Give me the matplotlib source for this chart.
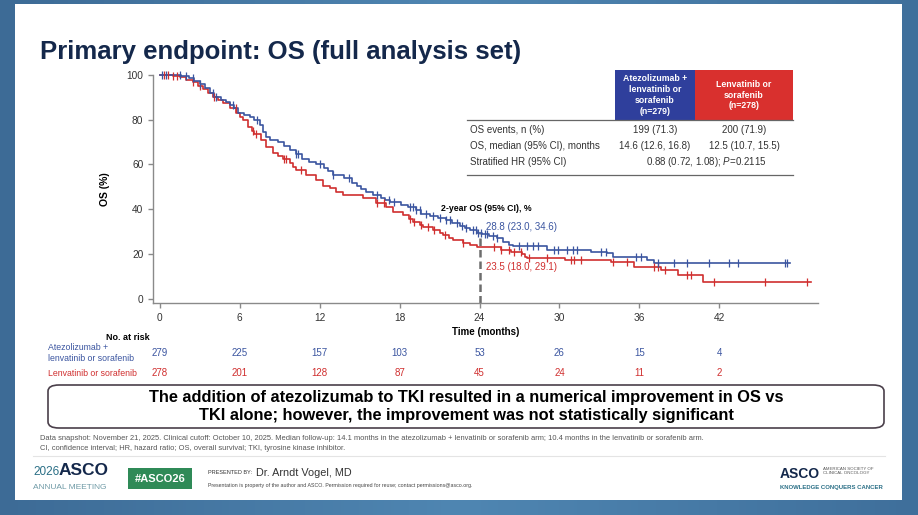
import numpy as np
import matplotlib.pyplot as plt
from matplotlib.patches import Rectangle, FancyBboxPatch
from matplotlib.colors import LinearSegmentedColormap
from matplotlib.transforms import blended_transform_factory

plt.rcParams['font.family'] = ['Liberation Sans', 'DejaVu Sans']
plt.rcParams['mathtext.fontset'] = 'custom'
plt.rcParams['mathtext.rm'] = 'Liberation Sans'
plt.rcParams['mathtext.it'] = 'Liberation Sans:italic'

BLUE = '#3b55a0'
RED = '#d02f2f'
NAVY = '#14284b'

# ---- KM data (months, OS %) ----
atezo_t = [0, 1.6, 2.2, 2.6, 3.0, 3.4, 3.75, 4.1, 4.6, 5.0, 5.3, 5.6, 5.9, 6.3, 6.8, 7.1, 7.5,
           7.75, 7.95, 8.25, 8.9, 9.3, 9.75, 10.2, 10.7, 11.2, 11.7, 12.3, 12.6, 13.0, 13.8,
           14.4, 14.8, 15.1, 15.5, 16.0, 16.6, 16.9, 17.3, 18.1, 18.6, 19.2, 19.6, 20.3, 20.9,
           21.5, 21.9, 22.5, 22.9, 23.3, 23.8, 24.2, 24.7, 25.3, 25.8, 26.2, 26.5, 29.1, 32.4,
           33.6, 34.0, 36.6, 37.1, 47.3]
atezo_s = [100, 99.3, 98.5, 97.0, 95.8, 94.0, 91.7, 90.0, 88.8, 88.0, 86.5, 85.0, 83.0, 82.0,
           81.0, 79.8, 77.5, 74.5, 72.3, 70.8, 69.8, 68.0, 66.4, 64.6, 62.6, 61.2, 60.1, 58.5,
           57.0, 55.2, 53.7, 51.8, 50.3, 49.0, 47.8, 46.5, 45.0, 44.0, 43.0, 41.8, 40.8, 39.5,
           38.0, 37.0, 36.0, 35.0, 33.8, 32.5, 31.4, 30.5, 29.5, 28.8, 28.0, 27.1, 25.5, 24.2,
           23.5, 22.0, 21.0, 20.3, 18.5, 17.3, 15.8, 15.8]
atezo_cens = [0.2, 0.5, 1.5, 2.0, 2.5, 3.0, 4.0, 4.2, 5.5, 7.3, 10.2, 10.4, 12.0, 13.0, 14.2,
              16.3, 17.2, 17.6, 18.8, 19.0, 19.2, 19.5, 20.0, 20.5, 21.0, 21.5, 21.8, 22.3,
              22.7, 23.0, 23.5, 23.7, 23.9, 24.1, 24.4, 24.6, 25.0, 25.3, 27.0, 27.6, 28.0,
              28.4, 29.6, 29.9, 30.6, 31.0, 31.3, 33.1, 33.5, 35.75, 36.1, 37.4, 38.6, 39.6,
              41.25, 42.75, 43.4, 46.9, 47.1]

lenva_t = [0, 1.0, 1.5, 2.0, 2.5, 2.9, 3.25, 3.6, 4.0, 4.4, 4.75, 5.25, 5.75, 6.0, 6.25, 6.6,
           6.9, 7.1, 7.6, 8.0, 8.5, 8.9, 9.25, 9.75, 10.0, 10.25, 11.0, 11.75, 12.25, 12.75,
           13.25, 13.75, 15.25, 16.25, 17.0, 17.5, 18.25, 18.7, 19.0, 19.5, 19.75, 20.5, 21.0,
           21.25, 21.7, 22.0, 22.75, 23.25, 23.8, 25.6, 26.4, 27.2, 27.4, 27.6, 30.4, 33.9,
           35.6, 37.6, 38.9, 40.75, 48.9]
lenva_s = [100, 99.3, 98.8, 97.8, 96.9, 95.0, 93.5, 92.0, 90.2, 88.8, 87.2, 85.0, 82.7, 81.3,
           79.8, 76.8, 75.0, 73.5, 70.8, 67.6, 65.2, 63.8, 62.6, 60.4, 58.8, 57.4, 55.2, 53.0,
           50.3, 49.3, 47.8, 46.3, 44.8, 42.9, 41.1, 38.8, 37.4, 35.8, 34.4, 33.0, 32.1, 30.7,
           29.5, 28.4, 27.2, 26.2, 25.0, 24.0, 23.2, 22.0, 21.0, 19.8, 18.8, 18.0, 17.3, 16.5,
           14.3, 12.8, 10.6, 7.6, 7.6]
lenva_cens = [0.3, 0.6, 1.0, 1.3, 2.5, 3.0, 4.1, 5.7, 7.0, 7.2, 9.3, 9.5, 10.6, 16.3, 16.8,
              18.8, 19.1, 19.6, 20.1, 20.6, 21.4, 22.75, 25.1, 25.6, 26.25, 26.6, 27.1, 27.75,
              29.1, 30.9, 31.1, 31.6, 34.0, 35.1, 37.1, 37.4, 37.9, 39.6, 39.9, 41.6, 45.4, 48.6]

# ---- number at risk ----
risk_months = [0, 6, 12, 18, 24, 30, 36, 42]
risk_atezo = [279, 225, 157, 103, 53, 26, 15, 4]
risk_lenva = [278, 201, 128, 87, 45, 24, 11, 2]

# ---- summary table ----
col_atezo = 'Atezolizumab +\nlenvatinib or\nsorafenib\n(n=279)'
col_lenva = 'Lenvatinib or\nsorafenib\n(n=278)'
row_labels = ['OS events, n (%)', 'OS, median (95% CI), months', 'Stratified HR (95% CI)']
atezo_vals = ['199 (71.3)', '14.6 (12.6, 16.8)']
lenva_vals = ['200 (71.9)', '12.5 (10.7, 15.5)']
hr_text = r'0.88 (0.72, 1.08); $\mathit{P}$=0.2115'

os2_label = '2-year OS (95% CI), %'
os2_atezo = '28.8 (23.0, 34.6)'
os2_lenva = '23.5 (18.0, 29.1)'
os2_month = 24

W, H = 918, 515
def fx(x): return x / W
def fy(y): return 1 - y / H

fig = plt.figure(figsize=(W / 100, H / 100), dpi=100)

# backdrop: blue gradient + white slide
bg = fig.add_axes([0, 0, 1, 1], zorder=-10)
grad = np.linspace(0, 1, 256).reshape(1, -1)
cm = LinearSegmentedColormap.from_list('bg', ['#3d6b96', '#4f86b2', '#3f6f9b'])
bg.imshow(grad, aspect='auto', cmap=cm, extent=[0, 1, 0, 1])
bg.add_patch(Rectangle((fx(15), fy(500)), fx(902) - fx(15), fy(4) - fy(500),
                       facecolor='white', edgecolor='none'))
bg.set_xlim(0, 1); bg.set_ylim(0, 1)
bg.axis('off')

fig.text(fx(40), fy(59), 'Primary endpoint: OS (full analysis set)', fontsize=18.5,
         fontweight='bold', color=NAVY, va='baseline')

ax = fig.add_axes([fx(153), fy(303.3), fx(818) - fx(153), fy(74.7) - fy(303.3)])
ax.set_xlim(-0.5, 49.4)
ax.set_ylim(-2, 100)

def censor_y(t, s, c):
    idx = np.searchsorted(t, c, side='right') - 1
    return np.array(s)[idx]

for t, s, cens, col in [(lenva_t, lenva_s, lenva_cens, RED), (atezo_t, atezo_s, atezo_cens, BLUE)]:
    ax.step(t, s, where='post', color=col, lw=1.2, clip_on=False, zorder=3)
    ax.plot(cens, censor_y(t, s, cens), ls='none', marker='|', ms=6, mew=0.9,
            color=col, clip_on=False, zorder=4)

y_at = censor_y(atezo_t, atezo_s, [os2_month])[0]
ax.plot([os2_month, os2_month], [-2, y_at], color='#6d6d6d', lw=1.8, ls=(0, (3, 1.6)), zorder=2)
ax.text(21.1, 40.5, os2_label, fontsize=6.3, fontweight='bold', va='center')
ax.text(24.5, 32, os2_atezo, fontsize=7, color=BLUE, va='center')
ax.text(24.5, 14.2, os2_lenva, fontsize=7, color=RED, va='center')

for sp in ['top', 'right']:
    ax.spines[sp].set_visible(False)
for sp in ['left', 'bottom']:
    ax.spines[sp].set_color('#8a8a8a')
    ax.spines[sp].set_linewidth(1)
ax.set_xticks(risk_months)
ax.set_yticks([0, 20, 40, 60, 80, 100])
ax.tick_params(colors='#8a8a8a', labelcolor='#333333', labelsize=7.3, length=3.5, width=1)
ax.set_ylabel('OS (%)', fontsize=7.5, fontweight='bold', labelpad=12)
ax.set_xlabel('Time (months)', fontsize=7, fontweight='bold', labelpad=3)

# number at risk
tr = blended_transform_factory(ax.transData, fig.transFigure)
fig.text(fx(150), fy(338), 'No. at risk', fontsize=6.5, fontweight='bold', ha='right', va='center')
fig.text(fx(48), fy(353), 'Atezolizumab +\nlenvatinib or sorafenib', fontsize=6.3, color=BLUE,
         va='center', linespacing=1.15)
fig.text(fx(48), fy(373), 'Lenvatinib or sorafenib', fontsize=6.3, color=RED, va='center')
for m, a, l in zip(risk_months, risk_atezo, risk_lenva):
    ax.text(m, fy(353), str(a), transform=tr, fontsize=7, color=BLUE, ha='center', va='center')
    ax.text(m, fy(373), str(l), transform=tr, fontsize=7, color=RED, ha='center', va='center')

# summary table
fig.patches.append(Rectangle((fx(615), fy(119.5)), fx(695) - fx(615), fy(70) - fy(119.5),
                             transform=fig.transFigure, facecolor='#2f3f9c', edgecolor='none'))
fig.patches.append(Rectangle((fx(695), fy(119.5)), fx(793) - fx(695), fy(70) - fy(119.5),
                             transform=fig.transFigure, facecolor='#d9302e', edgecolor='none'))
fig.text(fx(655), fy(95), col_atezo, fontsize=6.3, fontweight='bold', color='white',
         ha='center', va='center', linespacing=1.25)
fig.text(fx(744), fy(95), col_lenva, fontsize=6.3, fontweight='bold', color='white',
         ha='center', va='center', linespacing=1.25)
for yy in [119.5, 174.5]:
    fig.add_artist(plt.Line2D([fx(467), fx(793)], [fy(yy), fy(yy)], color='#666666', lw=0.9))
row_y = [130, 146, 161.7]
for lab, yy in zip(row_labels, row_y):
    fig.text(fx(470), fy(yy), lab, fontsize=7, color='#333333', va='center')
for a, l, yy in zip(atezo_vals, lenva_vals, row_y[:2]):
    fig.text(fx(655), fy(yy), a, fontsize=7, color='#333333', ha='center', va='center')
    fig.text(fx(744), fy(yy), l, fontsize=7, color='#333333', ha='center', va='center')
fig.text(fx(706), fy(row_y[2]), hr_text, fontsize=7, color='#333333', ha='center', va='center')

# conclusion box
fig.patches.append(FancyBboxPatch((fx(48), fy(428)), fx(884) - fx(48), fy(385) - fy(428),
                                  boxstyle='round,pad=0,rounding_size=0.012',
                                  transform=fig.transFigure, facecolor='white',
                                  edgecolor='#4a3f4a', lw=1.2))
fig.text(fx(466), fy(406.5),
         'The addition of atezolizumab to TKI resulted in a numerical improvement in OS vs\n'
         'TKI alone; however, the improvement was not statistically significant',
         fontsize=11.8, fontweight='bold', ha='center', va='center', linespacing=1.25)

# footnotes
fig.text(fx(40), fy(438), 'Data snapshot: November 21, 2025. Clinical cutoff: October 10, 2025. '
         'Median follow-up: 14.1 months in the atezolizumab + lenvatinib or sorafenib arm; '
         '10.4 months in the lenvatinib or sorafenib arm.', fontsize=5.4, color='#555555', va='center')
fig.text(fx(40), fy(448), 'CI, confidence interval; HR, hazard ratio; OS, overall survival; '
         'TKI, tyrosine kinase inhibitor.', fontsize=5.4, color='#555555', va='center')
fig.add_artist(plt.Line2D([fx(33), fx(885)], [fy(456), fy(456)], color='#e4e4e4', lw=0.8))

# footer branding
fig.text(fx(33), fy(475), '2026', fontsize=8.5, color='#2a6f86', va='baseline')
fig.text(fx(59), fy(475), 'ASCO', fontsize=12.5, fontweight='bold', color=NAVY, va='baseline')
fig.text(fx(33), fy(489), 'ANNUAL MEETING', fontsize=6, color='#6f9aa6', va='baseline')
fig.patches.append(Rectangle((fx(128), fy(489)), fx(192) - fx(128), fy(468) - fy(489),
                             transform=fig.transFigure, facecolor='#2f8a57', edgecolor='none'))
fig.text(fx(160), fy(478.5), '#ASCO26', fontsize=8, fontweight='bold', color='white',
         ha='center', va='center')
fig.text(fx(208), fy(473), 'PRESENTED BY:', fontsize=4, color='#333333', va='center')
fig.text(fx(256), fy(473), 'Dr. Arndt Vogel, MD', fontsize=7.8, color='#333333', va='center')
fig.text(fx(208), fy(486), 'Presentation is property of the author and ASCO. Permission required '
         'for reuse; contact permissions@asco.org.', fontsize=3.8, color='#444444', va='center')
fig.text(fx(780), fy(478.5), 'ASCO', fontsize=10, fontweight='bold', color=NAVY, va='baseline')
fig.text(fx(823), fy(471), 'AMERICAN SOCIETY OF\nCLINICAL ONCOLOGY', fontsize=3.2, color='#555555',
         va='center', linespacing=1.2)
fig.text(fx(780), fy(487), 'KNOWLEDGE CONQUERS CANCER', fontsize=4.3, fontweight='bold',
         color='#2a6f86', va='center')

fig.savefig('out.png', dpi=100)
